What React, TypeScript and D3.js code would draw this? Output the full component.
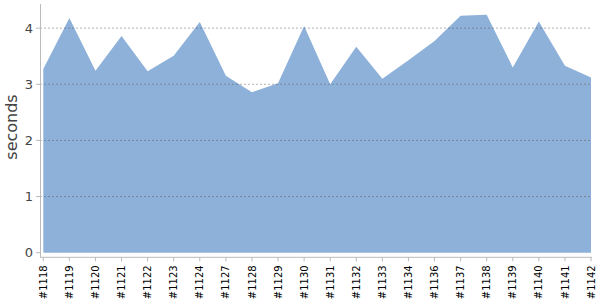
import React from "react";
import * as d3 from "d3";

const categories = ["#1118","#1119","#1120","#1121","#1122","#1123","#1124","#1127","#1128","#1129","#1130","#1131","#1132","#1133","#1134","#1136","#1137","#1138","#1139","#1140","#1141","#1142"];
const seconds = [3.27,4.18,3.24,3.86,3.23,3.51,4.11,3.15,2.86,3.02,4.04,3.0,3.67,3.10,3.43,3.77,4.22,4.24,3.30,4.12,3.33,3.12];
const yTicks = [0,1,2,3,4];

export default function App() {
  const W = 600, H = 300;
  const x = d3.scalePoint<string>().domain(categories).range([43.3, 591]);
  const y = d3.scaleLinear().domain([0, 4.43]).range([252.7, 4]);
  const data = categories.map((c, i) => ({ c, v: seconds[i] }));
  const area = d3.area<{ c: string; v: number }>()
    .x(d => x(d.c)!)
    .y0(y(0))
    .y1(d => y(d.v));
  const axisY = 257.3;
  return (
    <svg width={W} height={H} style={{ position: "absolute", left: 0, top: 0 }} fontFamily="DejaVu Sans">
      <path d={area(data)!} fill="#8eb1da" />
      {yTicks.filter(t => t > 0).map(t => (
        <line key={t} x1={40} x2={591} y1={y(t)} y2={y(t)} stroke="#555" strokeOpacity={0.45} strokeDasharray="2,2" strokeWidth={1} />
      ))}
      <line x1={40.5} x2={40.5} y1={4} y2={257} stroke="#bbb" />
      {yTicks.map(t => (
        <g key={t}>
          <line x1={36} x2={40} y1={y(t)} y2={y(t)} stroke="#bbb" />
          <text x={33} y={y(t)} dy="0.35em" textAnchor="end" fontSize={13} fill="#444">{t}</text>
        </g>
      ))}
      <line x1={40} x2={592} y1={axisY} y2={axisY} stroke="#bbb" />
      {categories.map(c => (
        <g key={c}>
          <line x1={x(c)!} x2={x(c)!} y1={axisY} y2={axisY + 4} stroke="#bbb" />
          <text transform={`translate(${x(c)! + 3.6},${axisY + 8}) rotate(-90)`} textAnchor="end" fontSize={10} fill="#000">{c}</text>
        </g>
      ))}
      <text transform={`translate(17,127) rotate(-90)`} textAnchor="middle" fontSize={16} fill="#444">seconds</text>
    </svg>
  );
}
